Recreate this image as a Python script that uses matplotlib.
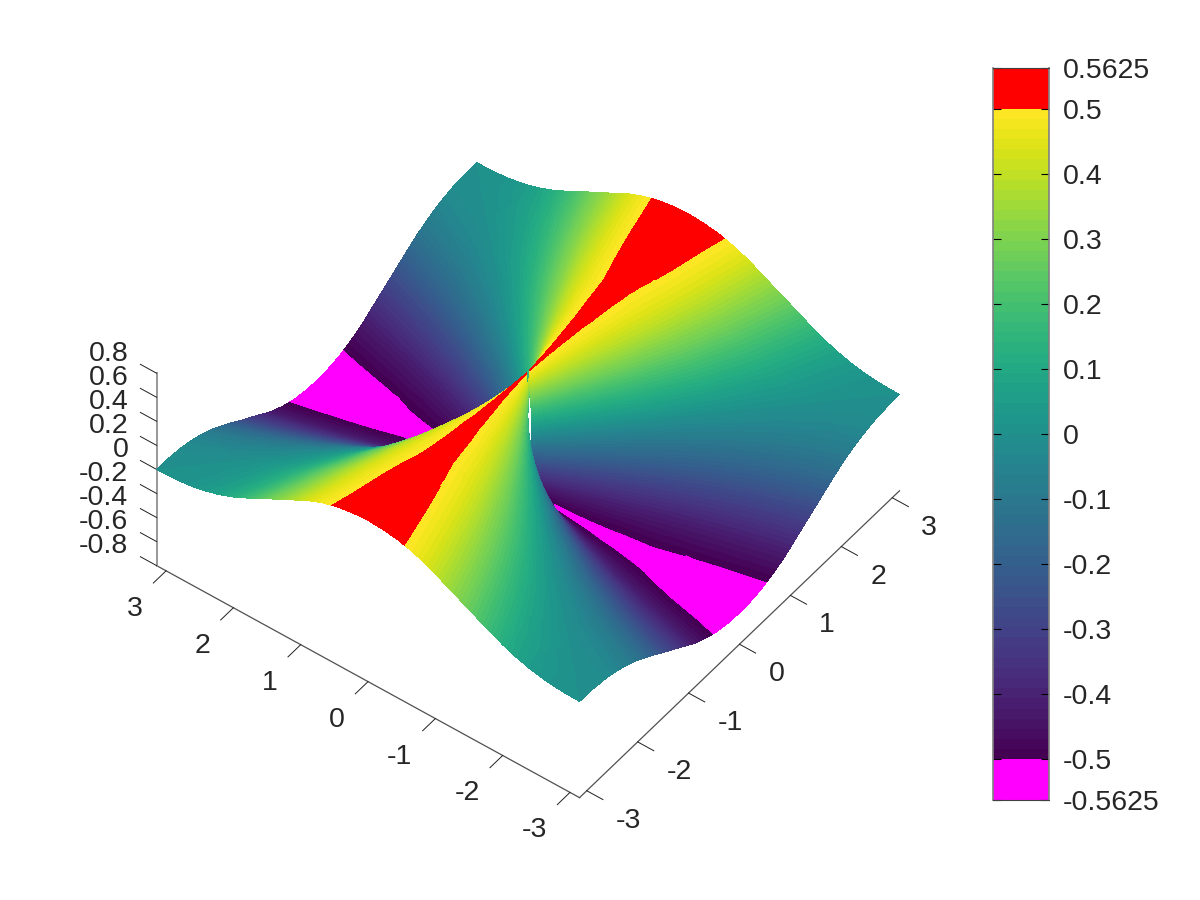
import numpy as np
import matplotlib
matplotlib.use("Agg")
import matplotlib.pyplot as plt
from matplotlib.tri import Triangulation
from mpl_toolkits.mplot3d import proj3d

plt.rcParams['font.family'] = ['Liberation Sans', 'DejaVu Sans']

angle_deg = [0, 4, 8, 12, 16, 20, 22.5, 25, 27.5, 30, 32.5, 35, 37.5, 40, 42.5, 45]
ring_frac = [0.01, 0.03, 0.07, 0.12, 0.2, 0.35, 0.55, 0.75, 1.0]
z_octant = [
    [.505, .500, .485, .462, .428, .387, .356, .325, .290, .252, .213, .173, .131, .088, .044, 0],
    [.505, .500, .485, .462, .428, .387, .356, .325, .290, .252, .213, .173, .131, .088, .044, 0],
    [.505, .500, .485, .462, .428, .387, .356, .325, .290, .252, .213, .173, .131, .088, .044, 0],
    [.505, .500, .485, .462, .428, .387, .356, .325, .290, .252, .213, .173, .131, .088, .044, 0],
    [.507, .501, .486, .462, .429, .388, .357, .325, .290, .253, .213, .173, .131, .088, .044, 0],
    [.510, .505, .490, .465, .430, .390, .358, .325, .288, .250, .210, .170, .128, .085, .042, 0],
    [.520, .510, .492, .468, .435, .390, .353, .315, .278, .240, .198, .155, .112, .070, .033, 0],
    [.530, .523, .505, .475, .435, .380, .342, .300, .258, .215, .170, .125, .086, .050, .022, 0],
    [.540, .533, .515, .480, .430, .360, .315, .270, .220, .170, .120, .078, .043, .018, .004, 0],
]

axis_ticks = [-3, -2, -1, 0, 1, 2, 3]
z_ticks = [-0.8, -0.6, -0.4, -0.2, 0, 0.2, 0.4, 0.6, 0.8]
z_tick_labels = ['-0.8', '-0.6', '-0.4', '-0.2', '0', '0.2', '0.4', '0.6', '0.8']
cbar_ticks = [-0.5625, -0.5, -0.4, -0.3, -0.2, -0.1, 0, 0.1, 0.2, 0.3, 0.4, 0.5, 0.5625]
cbar_labels = ['-0.5625', '-0.5', '-0.4', '-0.3', '-0.2', '-0.1', '0',
               '0.1', '0.2', '0.3', '0.4', '0.5', '0.5625']

ELEV, AZIM = 46.5, 217.1
TEXT = '#262626'
FS = 20.5
lim = np.pi
zlo, zhi = -0.8, 0.8
aspect = (1, 1, 0.527)

# unfold the octant to the full turn
oct_a = np.array(angle_deg, dtype=float)
oct_z = np.array(z_octant)
quad_a = np.r_[oct_a, 90 - oct_a[-2::-1]]
quad_z = np.c_[oct_z, -oct_z[:, -2::-1]]
half_a = np.r_[quad_a, 180 - quad_a[-2::-1]]
half_z = np.c_[quad_z, quad_z[:, -2::-1]]
theta = np.radians(np.r_[half_a, 180 + half_a[1:]])
Z = np.c_[half_z, half_z[:, 1:]]

edge = lim / np.maximum(np.abs(np.cos(theta)), np.abs(np.sin(theta)))
S = np.array(ring_frac)[:, None]
X = S * edge * np.cos(theta)
Y = S * edge * np.sin(theta)

fig = plt.figure(figsize=(12, 9), dpi=100)
ax = fig.add_axes([0, 0, 1, 1], projection='3d')
ax.set_proj_type('ortho')
ax.view_init(elev=ELEV, azim=AZIM)
ax.set_xlim(-lim, lim, view_margin=0)
ax.set_ylim(-lim, lim, view_margin=0)
ax.set_zlim(zlo, zhi, view_margin=0)
ax.set_box_aspect(aspect)
ax.set_axis_off()


def to_pixels(x, y, z):
    ax.apply_aspect()
    xs, ys, _ = proj3d.proj_transform(np.ravel(x), np.ravel(y), np.ravel(z), ax.get_proj())
    return ax.transData.transform(np.c_[xs, ys])


# scale and place the box so that it sits where the picture has it
p = to_pixels([-lim, -lim], [-lim, lim], [zlo, zlo])
ax.set_box_aspect(aspect, zoom=423 / abs(p[0, 0] - p[1, 0]))
c = to_pixels([0], [0], [0])[0]
ax.set_position([(528 - c[0]) / 1200, (900 - 432 - c[1]) / 900, 1, 1])

# overlay in figure pixels for the surface and the axis texts
ov = fig.add_axes([0, 0, 1, 1])
ov.patch.set_alpha(0)
ov.set_axis_off()


def label(x, y, z, text, ha):
    q = to_pixels([x], [y], [z])[0]
    ov.text(q[0], q[1], text, ha=ha, va='center', fontsize=FS, color=TEXT)


# axis lines and ticks
ax.plot([-lim, -lim], [-lim, lim], [zlo, zlo], color='#505050', lw=0.9)
ax.plot([-lim, lim], [-lim, -lim], [zlo, zlo], color='#505050', lw=0.9)
ax.plot([-lim, -lim], [lim, lim], [zlo, zhi], color='#909090', lw=1.3)
for t in axis_ticks:
    ax.plot([-lim, -lim - 0.25], [t, t], [zlo, zlo], color='#202020', lw=0.7)
    ax.plot([t, t], [-lim, -lim - 0.24], [zlo, zlo], color='#202020', lw=0.7)
    label(-lim - 0.45, t, zlo - 0.133, str(t), 'right')
    label(t, -lim - 0.43, zlo - 0.117, str(t), 'left')
for t, lab in zip(z_ticks, z_tick_labels):
    ax.plot([-lim, -lim], [lim, lim + 0.24], [t, t], color='#202020', lw=0.7)
    label(-lim, lim + 0.42, t + 0.03, lab, 'right')

# surface: cell by cell from the back to the front, colour bands from the library
cmap = plt.get_cmap('viridis').resampled(64).copy()
cmap.set_over('#ff0000')
cmap.set_under('#ff00ff')
levels = np.linspace(-0.5, 0.5, 65)

P = to_pixels(X, Y, Z).reshape(X.shape + (2,))
el, az = np.radians(ELEV), np.radians(AZIM)
depth = (X * np.cos(az) * np.cos(el) + Y * np.sin(az) * np.cos(el)
         + Z / (zhi - zlo) * aspect[2] * 2 * lim * np.sin(el))

cells = []
for i in range(X.shape[0] - 1):
    for j in range(X.shape[1] - 1):
        cells.append((depth[i:i + 2, j:j + 2].mean(), i, j))
cells.sort()
for d, i, j in cells:
    px = P[i:i + 2, j:j + 2, 0].ravel()
    py = P[i:i + 2, j:j + 2, 1].ravel()
    zz = Z[i:i + 2, j:j + 2].ravel()
    tri = Triangulation(px, py, triangles=[[0, 1, 3], [0, 3, 2]])
    ov.tricontourf(tri, zz, levels=levels, cmap=cmap, extend='both', antialiased=False)
ov.set_xlim(0, 1200)
ov.set_ylim(0, 900)

# colour bar
cb = fig.add_axes([993 / 1200, 1 - 800 / 900, 56 / 1200, 732 / 900])
edges = np.r_[-0.5625, levels, 0.5625]
centres = np.r_[-0.6, (levels[:-1] + levels[1:]) / 2, 0.6]
cb.pcolormesh([0, 1], edges, centres[:, None], cmap=cmap, vmin=-0.5, vmax=0.5)
cb.set_xlim(0, 1)
cb.set_ylim(-0.5625, 0.5625)
cb.set_xticks([])
cb.set_yticks(cbar_ticks, cbar_labels)
cb.yaxis.tick_right()
cb.tick_params(axis='y', direction='in', left=True, right=True, length=6, width=0.8,
               labelsize=FS, labelcolor=TEXT, pad=10)
for side in ['left', 'right']:
    cb.spines[side].set_color('#808080')
    cb.spines[side].set_linewidth(1.2)
cb.spines['top'].set_color('#404040')
cb.spines['bottom'].set_color('#404040')

fig.savefig('out.png', dpi=100)
